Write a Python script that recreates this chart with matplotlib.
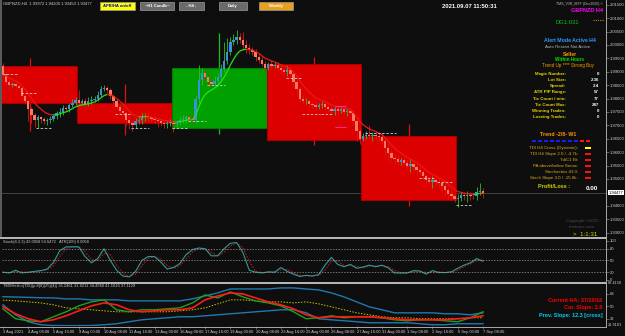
import numpy as np
import pandas as pd
import matplotlib
matplotlib.use('Agg')
import matplotlib.pyplot as plt
import matplotlib.transforms as mtransforms
from matplotlib.patches import Rectangle
from matplotlib.collections import LineCollection
from matplotlib.lines import Line2D

plt.rcParams['font.family'] = ['Liberation Sans', 'DejaVu Sans']

# ---- 4H candles (closes per bar, wicks in pips) ----
first_open = 1.9921
close = [
    1.9890, 1.9860, 1.9850, 1.9855, 1.9845, 1.9840, 1.9810, 1.9790, 1.9760, 1.9740, 1.9720, 1.9730,
    1.9725, 1.9715, 1.9720, 1.9725, 1.9735, 1.9745, 1.9750, 1.9765, 1.9760, 1.9775, 1.9785, 1.9795,
    1.9785, 1.9790, 1.9780, 1.9790, 1.9795, 1.9800, 1.9815, 1.9835, 1.9840, 1.9830, 1.9810, 1.9790,
    1.9770, 1.9755, 1.9745, 1.9720, 1.9710, 1.9700, 1.9715, 1.9720, 1.9730, 1.9735, 1.9730, 1.9725,
    1.9720, 1.9715, 1.9710, 1.9705, 1.9710, 1.9710,
    1.9705, 1.9710, 1.9720, 1.9725, 1.9730, 1.9725, 1.9720, 1.9800, 1.9870, 1.9895, 1.9880, 1.9860,
    1.9855, 1.9865, 1.9880, 1.9910, 1.9940, 1.9975, 2.0010, 2.0020, 2.0030, 2.0020, 2.0000, 1.9990,
    1.9980, 1.9975, 1.9955, 1.9945, 1.9930, 1.9915,
    1.9930, 1.9920, 1.9925, 1.9915, 1.9905, 1.9900, 1.9905, 1.9890, 1.9860, 1.9835, 1.9800, 1.9790,
    1.9790, 1.9780, 1.9775, 1.9770, 1.9775, 1.9780, 1.9770, 1.9760, 1.9755, 1.9760, 1.9755, 1.9760,
    1.9750, 1.9755, 1.9745, 1.9715, 1.9680, 1.9650,
    1.9660, 1.9665, 1.9660, 1.9665, 1.9660, 1.9655, 1.9640, 1.9615, 1.9595, 1.9580, 1.9575, 1.9565,
    1.9570, 1.9560, 1.9550, 1.9555, 1.9545, 1.9535, 1.9525, 1.9510, 1.9495, 1.9490, 1.9495, 1.9490,
    1.9485, 1.9475, 1.9460, 1.9445, 1.9435, 1.9425,
    1.9430, 1.9440, 1.9435, 1.9440, 1.9438, 1.9435, 1.9450, 1.9455, 1.9448]
up_wick = [
    10, 8, 12, 6, 8, 6, 8, 6, 10, 8, 6, 8, 6, 6, 8, 10, 8, 10, 14, 10, 8, 10, 12, 10,
    35, 10, 12, 15, 15, 10, 12, 10, 12, 8, 10, 8, 10, 8, 8, 10, 15, 10, 12, 15, 15, 12, 10, 8, 10, 12, 10, 8, 10, 12,
    10, 10, 12, 15, 10, 10, 12, 15, 55, 20, 12, 10, 10, 20, 15, 20, 70, 50, 20, 20, 25, 15, 30, 20, 15, 12, 10, 12, 10, 10,
    8, 15, 10, 10, 12, 10, 20, 12, 15, 12, 10, 15, 12, 10, 12, 15, 10, 12, 12, 10, 20, 12, 15, 10, 12, 10, 12, 15, 10, 12,
    12, 15, 35, 10, 12, 10, 15, 12, 20, 12, 15, 12, 10, 12, 10, 20, 12, 10, 12, 10, 8, 12, 15, 10, 12, 10, 12, 10, 12, 8,
    15, 12, 10, 15, 10, 12, 20, 30, 12]
dn_wick = [
    8, 10, 20, 8, 10, 8, 12, 10, 45, 30, 25, 30, 15, 10, 12, 10, 8, 10, 14, 10, 8, 12, 8, 8,
    10, 8, 10, 8, 10, 8, 8, 10, 8, 10, 12, 10, 12, 10, 12, 20, 25, 20, 10, 10, 15, 12, 12, 10, 12, 20, 12, 15, 15, 12,
    30, 12, 10, 12, 15, 10, 10, 10, 15, 20, 10, 12, 12, 10, 12, 10, 12, 10, 12, 10, 15, 12, 15, 20, 15, 12, 15, 12, 10, 12,
    10, 10, 8, 12, 10, 12, 15, 10, 20, 25, 15, 12, 12, 10, 15, 12, 10, 12, 15, 10, 12, 15, 12, 10, 12, 15, 10, 12, 40, 20,
    10, 12, 10, 20, 15, 12, 15, 30, 25, 12, 20, 15, 12, 12, 12, 25, 15, 20, 12, 10, 12, 10, 25, 15, 12, 20, 25, 20, 15, 12,
    30, 12, 15, 20, 15, 10, 12, 10, 20]

# ---- weekly candles drawn as boxes ----
week_start = [-6, 24, 54, 84, 114]
week_open = [1.9921, 1.9783, 1.9690, 1.9929, 1.9660]
week_close = [1.9783, 1.9709, 1.9914, 1.9645, 1.9421]
week_high = [1.9951, 1.9854, 2.0044, 1.9955, 1.9705]
week_low = [1.9680, 1.9664, 1.9668, 1.9627, 1.9399]

# short daily level marks
level_start = [0, 6, 11, 36, 41, 54, 59, 65, 90, 95, 101, 115, 132, 138, 144]
level_end = [4, 10, 15, 40, 46, 58, 64, 70, 94, 100, 104, 124, 136, 142, 148]
level_price = [1.9892, 1.9821, 1.9690, 1.9742, 1.9690, 1.9690, 1.9716, 1.9850, 1.9877,
               1.9742, 1.9742, 1.9671, 1.9504, 1.9489, 1.9403]
pink_price = [1.9772, 1.9694]

# ---- stochastic, every 2 bars ----
stoch_k = [20, 18, 25, 18, 20, 22, 24, 28, 45, 75, 85, 85, 85, 60, 44, 55, 80, 50, 25, 10,
           8, 22, 50, 60, 60, 46, 28, 32, 42, 65, 78, 82, 80, 62, 62, 80, 94, 96, 70, 25,
           20, 18, 21, 20, 32, 22, 15, 9, 12, 10, 14, 38, 58, 40, 34, 40, 30, 33, 38, 34,
           38, 31, 18, 18, 18, 24, 23, 15, 24, 19, 19, 21, 30, 38, 44, 55, 48]

# ---- TDI, every 4 bars ----
tdi_up = [64.0, 63.5, 63.0, 62.5, 62.2, 60.8, 60.8, 59.4, 59.4, 59.4, 57.9, 57.9, 57.9, 57.9, 57.9,
          60.8, 65.1, 69.5, 75.2, 75.2, 75.2, 75.2, 76.7, 76.7, 75.2, 73.8, 69.5, 63.7, 56.5, 49.3,
          45.0, 40.6, 40.6, 40.6, 40.6, 39.2, 39.2, 37.7, 40.6]
tdi_dn = [52.2, 37.7, 27.7, 23.3, 22.2, 22.0, 22.0, 22.2, 23.3, 24.8, 27.7, 30.5, 32.0, 33.4, 34.9,
          34.9, 36.3, 37.7, 39.2, 40.6, 42.1, 43.5, 45.0, 45.0, 40.6, 32.0, 30.5, 29.1, 27.7, 26.2,
          26.2, 26.2, 26.2, 24.8, 23.3, 23.3, 24.8, 24.8, 24.8]
tdi_mid = [59.0, 58.0, 56.5, 55.0, 52.2, 47.8, 46.4, 45.0, 43.5, 42.1, 42.1, 42.1, 42.1, 42.1, 43.5,
           45.0, 47.8, 53.6, 59.4, 59.4, 57.9, 56.5, 56.5, 55.0, 56.5, 53.6, 49.3, 45.0, 40.6, 37.7,
           34.9, 33.4, 33.4, 32.0, 32.0, 32.0, 32.0, 33.4, 33.4]
tdi_green = [46.4, 32.0, 29.1, 27.7, 34.9, 42.1, 50.7, 56.5, 59.4, 45.0, 42.1, 45.0, 45.0, 46.4, 47.8,
             55.0, 66.6, 62.2, 70.9, 63.7, 57.9, 55.0, 50.7, 42.1, 32.0, 33.4, 36.3, 33.4, 34.9, 34.9,
             33.4, 30.5, 29.1, 30.5, 30.5, 29.1, 27.7, 33.4, 42.1]
tdi_red = [49.3, 39.2, 32.0, 27.7, 30.5, 36.3, 43.5, 50.7, 55.0, 52.2, 45.0, 42.1, 43.5, 45.0, 45.0,
           47.8, 59.4, 65.1, 69.5, 68.0, 62.2, 56.5, 52.2, 46.4, 37.7, 33.4, 34.9, 34.9, 34.9, 34.9,
           33.4, 32.0, 30.5, 30.5, 30.5, 30.5, 32.0, 33.4, 36.3]

x_labels = ['3 Aug 2021', '4 Aug 08:00', '5 Aug 16:00', '9 Aug 00:00', '10 Aug 08:00', '11 Aug 16:00',
            '13 Aug 00:00', '16 Aug 08:00', '17 Aug 16:00', '19 Aug 00:00', '20 Aug 08:00', '23 Aug 16:00',
            '25 Aug 00:00', '26 Aug 08:00', '27 Aug 16:00', '31 Aug 00:00', '1 Sep 08:00', '2 Sep 16:00',
            '6 Sep 00:00', '7 Sep 08:00']

W, H = 625, 336
BG = '#0e0e0e'
fig = plt.figure(figsize=(W / 100, H / 100), dpi=100, facecolor=BG)


def fpos(px, py):
    return px / W, 1 - py / H


def txt(px, py, s, **kw):
    kw.setdefault('va', 'center')
    fig.text(px / W, 1 - py / H, s, **kw)


XLIM = (-0.3, -0.3 + 604 / 3.158)
ax = fig.add_axes([2 / W, 1 - 236 / H, 604 / W, 236 / H], facecolor=BG)
ax_st = fig.add_axes([2 / W, 1 - 281 / H, 604 / W, 42 / H], facecolor=BG)
ax_tdi = fig.add_axes([2 / W, 1 - 326 / H, 604 / W, 42 / H], facecolor=BG)
for a in (ax, ax_st, ax_tdi):
    a.set_xlim(*XLIM)
    for s in a.spines.values():
        s.set_visible(False)
    a.yaxis.tick_right()
    a.tick_params(axis='y', colors='#9a9a9a', labelcolor='#d0d0d0', labelsize=3.0,
                  length=2, width=0.4, pad=1)
    a.tick_params(axis='x', bottom=False, labelbottom=False)

# ---- main price panel ----
close = np.array(close)
opens = np.r_[first_open, close[:-1]]
bars = np.arange(len(close))
high = np.maximum(opens, close) + np.array(up_wick) * 0.0001
low = np.minimum(opens, close) - np.array(dn_wick) * 0.0001
bull = close >= opens

for ws, wo, wc, wh, wl in zip(week_start, week_open, week_close, week_high, week_low):
    cen = ws + 14.5
    up = wc >= wo
    ax.vlines(cen, wl, wh, color='#22b822' if up else '#e01010', lw=0.9, zorder=1)
    ax.bar(cen, abs(wc - wo), bottom=min(wo, wc), width=30,
           color='#00a000' if up else '#dd0000',
           edgecolor='#007a00' if up else '#a80000', lw=0.8, zorder=2)

ax.vlines(bars, low, high, colors=np.where(bull, '#24c424', '#d81818'), lw=0.6, zorder=3)
ax.bar(bars, np.maximum(np.abs(close - opens), 0.00014), bottom=np.minimum(opens, close),
       width=0.75, color=np.where(bull, '#3c8ee0', '#ff7a5c'), lw=0, zorder=4)

ema = pd.Series(close).ewm(span=8, adjust=False).mean().values
seg = [[(bars[i], ema[i]), (bars[i + 1], ema[i + 1])] for i in range(len(ema) - 1)]
d = np.diff(ema)
seg_col = np.where(d > 0.00006, '#1ee81e', np.where(d < -0.00006, '#f01818', '#d07010'))
ax.add_collection(LineCollection(seg, colors=seg_col, lw=0.9, zorder=5))

ax.hlines(level_price, np.array(level_start) - 0.4, np.array(level_end) + 0.4,
          colors='#d0d0d0', lw=0.6, linestyles=(0, (3, 2)), zorder=6)
ax.hlines(pink_price, 105, 108.5, colors='#ff2a90', lw=0.8, zorder=6)

ax.set_ylim(1.92872, 2.01675)
yt = np.arange(1.930, 2.0161, 0.005)
yt = yt[np.abs(yt - close[-1]) > 0.0025]
ax.set_yticks(yt)
ax.set_yticklabels(['%.5f' % v for v in yt])
ax.axhline(close[-1], color='#4a4a4a', lw=0.6, zorder=0.5)
blend = mtransforms.blended_transform_factory(ax.transAxes, ax.transData)
ax.text(1.004, close[-1], '1.94477', transform=blend, fontsize=3.0, color='black', va='center',
        bbox=dict(facecolor='white', edgecolor='none', pad=0.4), zorder=10)

# ---- stochastic panel ----
st_bars = np.arange(0, len(close), 2)
stoch_d = pd.Series(stoch_k).rolling(2, min_periods=1).mean().values
ax_st.plot(st_bars, stoch_d, color='#b01818', lw=0.8, ls=(0, (1.5, 1.2)))
ax_st.plot(st_bars, stoch_k, color='#2f9a9a', lw=0.8)
for lv in (20, 50, 80):
    ax_st.axhline(lv, color='#a0a0a0', lw=0.5, ls=(0, (2, 2)))
ax_st.set_ylim(-2.6, 105.1)
ax_st.set_yticks([0, 20, 50, 80, 100])
ax_st.set_yticklabels(['0', '20', '50', '80', '100'])

# ---- TDI panel ----
tdi_bars = np.arange(0, len(close), 4)
ax_tdi.plot(tdi_bars, tdi_up, color='#1f78b0', lw=1.0)
ax_tdi.plot(tdi_bars, tdi_dn, color='#1f78b0', lw=1.0)
ax_tdi.plot(tdi_bars, tdi_mid, color='#c8c400', lw=0.7, ls=(0, (1.5, 1.5)))
ax_tdi.plot(tdi_bars, tdi_green, color='#1ea01e', lw=1.0)
ax_tdi.plot(tdi_bars, tdi_red, color='#ff1a1a', lw=1.2)
ax_tdi.set_ylim(21.5, 82.4)
ax_tdi.set_yticks([32, 50, 68])
ax_tdi.set_yticklabels(['32', '50', '68'])
ax_tdi.set_xticks(np.arange(0, len(close), 8))
ax_tdi.set_xticklabels(x_labels, ha='left')
ax_tdi.tick_params(axis='x', bottom=True, labelbottom=True, colors='#9a9a9a', labelcolor='#d0d0d0',
                   labelsize=2.9, length=2, width=0.4, pad=0.8)

# ---- frame lines ----
for y0 in (237.5, 282.5):
    fig.add_artist(Line2D([0, 606 / W], [1 - y0 / H] * 2, color='#c8c8c8', lw=1.3))
fig.add_artist(Line2D([606 / W] * 2, [1, 1 - 326 / H], color='#a8a8a8', lw=0.7))
fig.add_artist(Line2D([0, 606 / W], [1 - 326.5 / H] * 2, color='#a8a8a8', lw=0.7))
fig.add_artist(Line2D([0.8 / W] * 2, [1, 1 - 236 / H], color='#6a6a6a', lw=1.2))
txt(608, 283.5, '82.4150', color='#d0d0d0', fontsize=2.8)
txt(608, 325, '21.9101', color='#d0d0d0', fontsize=2.8)

# ---- header texts and buttons ----
txt(3, 4, 'GBPNZD,H4  1.93972 1.94200 1.93450 1.93477', color='#d0d0d0', fontsize=3.0)
buttons = [(100, 135, 'APB/HA on/off', '#ffff00', '#0000d0'),
           (140, 174, '~H1 Candle~', '#6a6a6a', 'white'),
           (179, 204, '- H4 -', '#6a6a6a', 'white'),
           (219, 247, 'Daily', '#6a6a6a', 'white'),
           (259, 293, 'Weekly', '#e8a020', 'white')]
for x0, x1, lab, fc, tc in buttons:
    fig.add_artist(Rectangle(fpos(x0, 10), (x1 - x0) / W, 7.5 / H, transform=fig.transFigure,
                             facecolor=fc, edgecolor='#9a9a9a', lw=0.5))
    txt((x0 + x1) / 2, 6.3, lab, color=tc, fontsize=3.0, fontweight='bold', ha='center')

txt(469, 6, '2021.09.07 11:50:31', color='white', fontsize=4.2, fontweight='bold', ha='center')
txt(579, 4, 'TMS_V3R_MTF (Dec2020) ©', color='#b8b8b8', fontsize=2.6, ha='center')
txt(587, 11, 'GBPNZD H4', color='#ff00ff', fontsize=4.0, fontweight='bold', ha='center')
txt(555, 22, 'DG1:031', color='#10c010', fontsize=4.2, ha='left')
fig.add_artist(Line2D([593 / W, 603 / W], [1 - 20 / H] * 2, color='#c08020', lw=0.8, ls=(0, (1, 1))))

txt(570, 41, 'Alert Mode Active H4', color='#3399ff', fontsize=3.7, fontweight='bold', ha='center')
txt(568, 47, 'Auto Restart Not Active', color='#b4b4b4', fontsize=3.2, ha='center')
txt(570, 54, 'Seller', color='#ff9900', fontsize=3.7, fontweight='bold', ha='center')
txt(570, 59.5, 'Within Hours', color='#00e000', fontsize=3.3, fontweight='bold', ha='center')
txt(568, 65, 'Trend Up **** Strong Buy', color='#ff9900', fontsize=3.3, ha='center')

info_labels = ['Magic Number:', 'Lot Size:', 'Spread:', 'ATR PIP Range:', 'Tic Count / min:',
               'Tic Count Max:', 'Winning Trades:', 'Loseing Trades:']
info_values = ['0', '2.36', '2.4', '57', '77', '247', '0', '0']
for k, (lab, val) in enumerate(zip(info_labels, info_values)):
    yy = 74 + k * 6.15
    txt(566, yy, lab, color='#e6d200', fontsize=3.2, fontweight='bold', ha='right')
    txt(599, yy, val, color='white', fontsize=3.2, fontweight='bold', ha='right')

txt(558, 134, 'Trend -2/8- W1', color='#ff9900', fontsize=3.8, fontweight='bold', ha='center')
for k in range(10):
    fig.add_artist(Rectangle(fpos(532 + k * 6, 142), 4 / W, 2 / H, transform=fig.transFigure,
                             facecolor='#1a1aff' if k < 8 else '#ff1010', lw=0))

sig_labels = ['TDI H4 Cross (Dynamic):', 'TDI H4 Slope 2.0 / -4.7k:', 'TdiC1 Bt:',
              'PA above/below Senac:', 'Stochastics 43.0:', 'Stoch Slope 3.0 / -15.0k:']
sig_colors = ['#ffff00', '#ff1010', '#ff1010', '#ff1010', '#ff1010', '#ff1010']
for k, (lab, col) in enumerate(zip(sig_labels, sig_colors)):
    yy = 148 + k * 6
    txt(578, yy, lab, color='#e0a818', fontsize=3.2, ha='right')
    fig.add_artist(Rectangle(fpos(585, yy + 1.2), 6 / W, 2.4 / H, transform=fig.transFigure,
                             facecolor=col, lw=0))

txt(538, 186, 'Profit/Loss :', color='#c8d200', fontsize=4.0, fontweight='bold', ha='left')
txt(598, 189, '0.00', color='white', fontsize=4.6, fontweight='bold', ha='right')
txt(582, 221, 'Copyright ©2015', color='#4a4a4a', fontsize=3.2, ha='center')
txt(582, 227.5, 'tmsforex.com', color='#4a4a4a', fontsize=3.2, ha='center')
txt(573, 234, '>  1:1:31', color='#d8d800', fontsize=4.4, ha='left')

txt(3, 242, 'Stoch(8,3,3) 43.0058 54.6472   ATR(100) 0.0058', color='#c8c8c8', fontsize=2.9)
txt(3, 286, 'TMSHeikin(TDI)(p:8(8)(25)(4)) 35.2461 31.8211 34.4960 41.1616 37.1129',
    color='#c8c8c8', fontsize=2.9)
txt(602, 300, 'Current HA: 37/20/18', color='#ff0000', fontsize=4.0, fontweight='bold', ha='right')
txt(602, 307, 'Cur. Slope: 2.8', color='#ff0000', fontsize=4.0, fontweight='bold', ha='right')
txt(603, 316, 'Prev. Slope: 12.3 [cross]', color='#00d0f0', fontsize=4.0, fontweight='bold', ha='right')

fig.savefig('out.png', dpi=100, facecolor=BG)
